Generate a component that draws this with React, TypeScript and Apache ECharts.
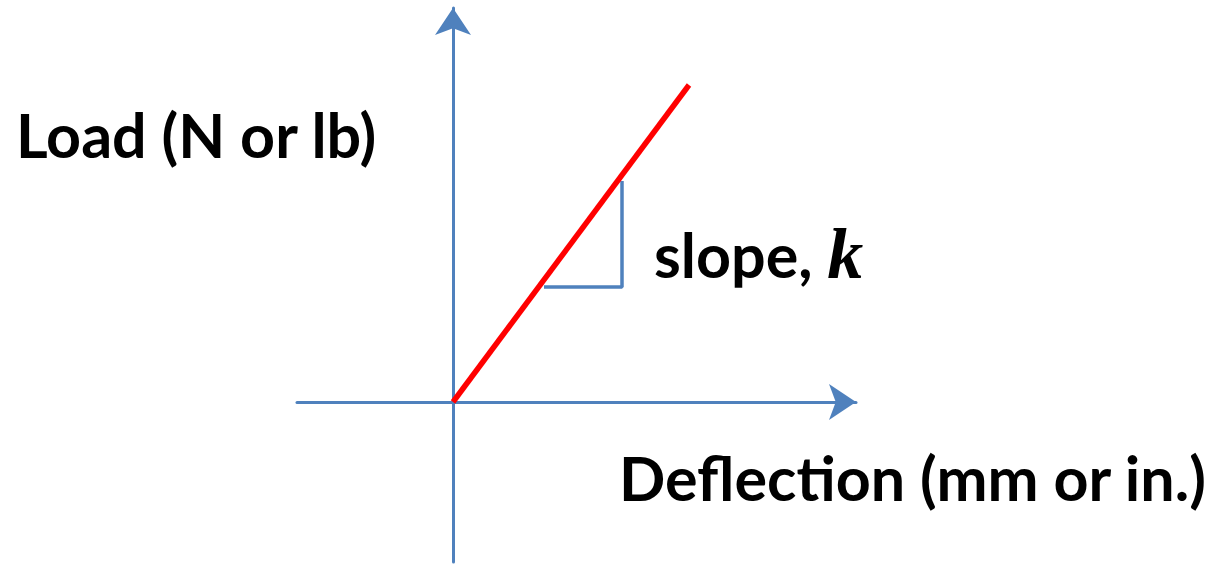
import React, { useEffect, useRef } from "react";
import * as echarts from "echarts";

// Conceptual load–deflection diagram (arbitrary units)
const xRange = [-3.12, 8.06];
const yRange = [-3.2, 7.88];
const loadLine: [number, number][] = [
  [0, 0],
  [4.72, 6.34],
];
const slopeTriangle: [number, number][] = [
  [1.82, 2.3],
  [3.38, 2.3],
  [3.38, 4.42],
];
const yLabel = "Load (N or lb)";
const xLabel = "Deflection (mm or in.)";
const slopeLabel = "slope, ";
const slopeSymbol = "k";

const BLUE = "#4f81bd";

export default function App() {
  const ref = useRef<HTMLDivElement>(null);
  useEffect(() => {
    document.body.style.margin = "0";
    const chart = echarts.init(ref.current!, undefined, { renderer: "svg" });
    const axisCommon = {
      type: "value" as const,
      axisTick: { show: false },
      axisLabel: { show: false },
      splitLine: { show: false },
      axisLine: {
        show: true,
        onZero: true,
        symbol: ["none", "arrow"],
        symbolSize: [27, 27],
        lineStyle: { color: BLUE, width: 3 },
      },
    };
    chart.setOption({
      animation: false,
      backgroundColor: "#ffffff",
      grid: { left: 297, right: 351, top: 8, bottom: 2 },
      xAxis: { ...axisCommon, min: xRange[0], max: xRange[1] },
      yAxis: { ...axisCommon, min: yRange[0], max: yRange[1] },
      series: [
        {
          type: "line",
          data: slopeTriangle,
          symbol: "none",
          lineStyle: { color: BLUE, width: 3.5 },
          z: 3,
        },
        {
          type: "line",
          data: loadLine,
          symbol: "none",
          lineStyle: { color: "#ff0000", width: 5.5 },
          z: 4,
        },
      ],
      graphic: [
        {
          type: "text",
          left: 16,
          top: 104,
          style: {
            text: yLabel,
            font: "bold 61px Lato",
            fill: "#000",
          },
        },
        {
          type: "text",
          left: 619,
          top: 447,
          style: {
            text: xLabel,
            font: "bold 61px Lato",
            fill: "#000",
          },
        },
        {
          type: "text",
          left: 654,
          top: 218,
          style: {
            text: `{a|${slopeLabel}}{k|${slopeSymbol}}`,
            rich: {
              a: { font: "bold 61px Lato", fill: "#000" },
              k: {
                font: "italic bold 72px 'Liberation Serif'",
                fill: "#000",
              },
            },
          },
        },
      ],
    });
    return () => chart.dispose();
  }, []);
  return <div ref={ref} style={{ width: 1207, height: 564 }} />;
}
